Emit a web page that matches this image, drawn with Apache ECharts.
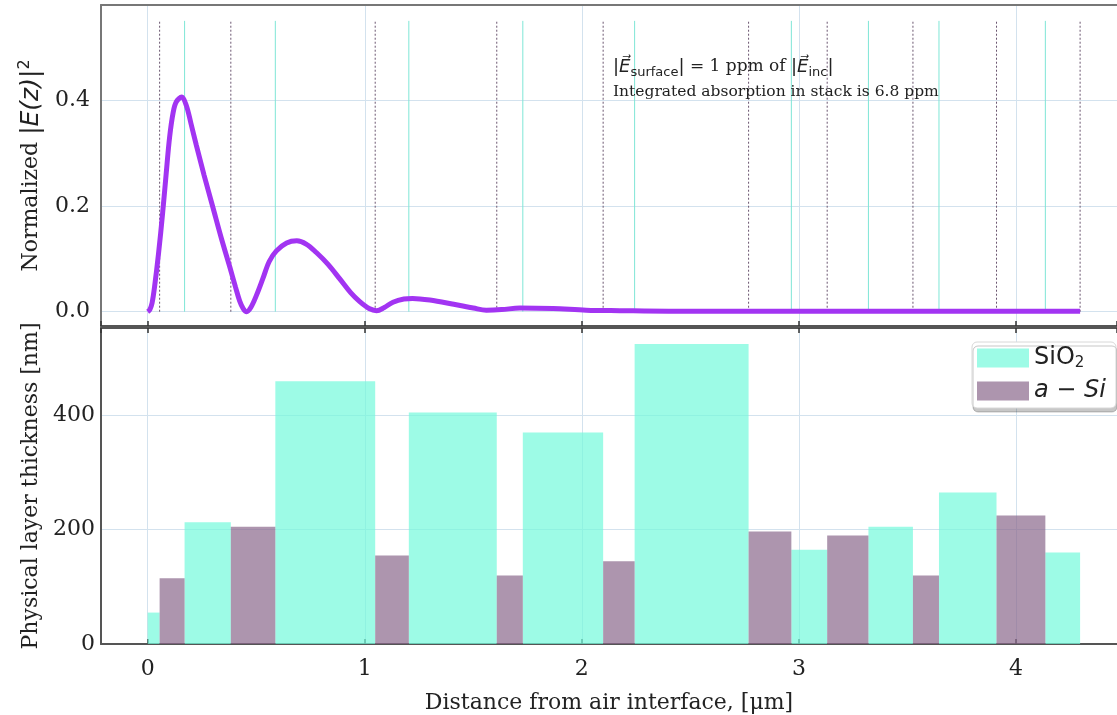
<!DOCTYPE html>
<html>
<head>
<meta charset="utf-8">
<script src="https://cdn.jsdelivr.net/npm/echarts@6/dist/echarts.min.js"></script>
<style>
  html, body { margin: 0; padding: 0; background: #fff; }
  #chart { width: 1117px; height: 715px; }
</style>
</head>
<body>
<div id="chart"></div>
<script>
  // layer thicknesses in nm (stack starts with SiO2, alternates)
  const sio2Thick = [55, 213, 460, 405, 370, 525, 165, 205, 265, 160];
  const asiThick = [115, 205, 155, 120, 145, 197, 190, 120, 225];

  // |E(z)|^2: [distance um, value]
  const fieldZ = [0, 0.01, 0.02, 0.032, 0.05, 0.069, 0.085, 0.101, 0.118, 0.132, 0.157, 0.178, 0.2, 0.224, 0.26,
    0.3, 0.34, 0.378, 0.405, 0.424, 0.44, 0.456, 0.475, 0.5, 0.53, 0.56, 0.593, 0.64, 0.687, 0.73, 0.777,
    0.83, 0.885, 0.935, 0.977, 1.02, 1.054, 1.09, 1.13, 1.18, 1.22, 1.3, 1.41, 1.5, 1.56, 1.63, 1.714,
    1.867, 2.02, 2.175, 2.4, 2.8, 3.2, 3.6, 4.0, 4.295];
  const fieldE = [0, 0.004, 0.016, 0.048, 0.11, 0.187, 0.26, 0.33, 0.378, 0.397, 0.406, 0.39, 0.355, 0.315, 0.258,
    0.198, 0.138, 0.085, 0.046, 0.02, 0.006, 0.0, 0.008, 0.03, 0.062, 0.095, 0.115, 0.13, 0.134, 0.128, 0.112,
    0.09, 0.062, 0.036, 0.019, 0.006, 0.002, 0.008, 0.018, 0.024, 0.025, 0.022, 0.014, 0.007, 0.003, 0.004, 0.007,
    0.006, 0.003, 0.002, 0.001, 0.001, 0.001, 0.001, 0.001, 0.001];

  const yTicksTop = [0, 0.2, 0.4];
  const yTicksBottom = [0, 200, 400];

  // build layer spans [start, end, thickness] in um from the thicknesses
  let sio2Bars = [], asiBars = [], sio2Ends = [], asiEnds = [];
  let pos = 0;
  for (let i = 0; i < sio2Thick.length; i++) {
    let t = sio2Thick[i] / 1000;
    sio2Bars.push([pos, pos + t, sio2Thick[i]]);
    pos += t;
    sio2Ends.push(pos);
    if (i < asiThick.length) {
      let a = asiThick[i] / 1000;
      asiBars.push([pos, pos + a, asiThick[i]]);
      pos += a;
      asiEnds.push(pos);
    }
  }
  const lineTop = 0.55;

  const serif = 'DejaVu Serif';
  const gridCol = '#d3e2ee';
  const frameCol = '#555';

  function barItem(params, api) {
    const p0 = api.coord([api.value(0), api.value(2)]);
    const p1 = api.coord([api.value(1), 0]);
    return {
      type: 'rect',
      shape: { x: p0[0], y: p0[1], width: p1[0] - p0[0], height: p1[1] - p0[1] },
      style: api.style()
    };
  }
  function vlineItem(color, dash) {
    return function (params, api) {
      const a = api.coord([api.value(0), 0]);
      const b = api.coord([api.value(0), lineTop]);
      return {
        type: 'line',
        shape: { x1: a[0], y1: a[1], x2: b[0], y2: b[1] },
        style: { stroke: color, lineWidth: 1, lineDash: dash }
      };
    };
  }

  const myChart = echarts.init(document.getElementById('chart'));

  // x range picked so that 0..4 sits where the reference has it; right edge runs off the page
  const xMin = -0.215, xMax = 4.465;
  function xAx(grid, where, extra) {
    return Object.assign({
      type: 'value', gridIndex: grid, position: where, min: xMin, max: xMax, splitNumber: 5,
      axisLine: { show: true, onZero: false, lineStyle: { color: frameCol, width: 2 } },
      axisTick: { show: true, inside: true, length: 5, lineStyle: { color: '#333', width: 1.5 } },
      axisLabel: { show: false },
      splitLine: { show: false }
    }, extra || {});
  }

  let option = {
    animation: false,
    backgroundColor: '#fff',
    grid: [
      { left: 101, right: 0, top: 5, height: 321 },
      { left: 101, right: 0, top: 328, height: 322 }
    ],
    xAxis: [
      xAx(0, 'bottom', { splitLine: { show: true, lineStyle: { color: gridCol, width: 1 } } }),
      xAx(1, 'bottom', {
        splitLine: { show: true, lineStyle: { color: gridCol, width: 1 } },
        axisLabel: {
          show: true, margin: 14, fontFamily: serif, fontSize: 22, color: '#222',
          showMinLabel: false, showMaxLabel: false
        },
        name: 'Distance from air interface, [μm]',
        nameLocation: 'middle', nameGap: 48,
        nameTextStyle: { fontFamily: serif, fontSize: 22, color: '#222' }
      }),
      xAx(0, 'top', { axisTick: { show: false }, axisLine: { show: true, onZero: false, lineStyle: { color: '#777', width: 2 } } }),
      xAx(1, 'top')
    ],
    yAxis: [
      {
        type: 'value', gridIndex: 0, min: -0.027, max: 0.58, splitNumber: 3,
        axisLine: { show: true, onZero: false, lineStyle: { color: '#777', width: 2 } },
        axisTick: { show: false },
        axisLabel: {
          fontFamily: serif, fontSize: 22, color: '#222', margin: 11,
          showMinLabel: false, showMaxLabel: false,
          formatter: function (v) { return yTicksTop.indexOf(Math.round(v * 10) / 10) >= 0 ? v.toFixed(1) : ''; }
        },
        splitLine: { lineStyle: { color: gridCol, width: 1 } },
        name: '{t|Normalized }{m||E(z)|}{s|2}', nameLocation: 'middle', nameGap: 50,
        nameTextStyle: {
          fontFamily: serif, fontSize: 22, color: '#222',
          rich: {
            t: { fontFamily: serif, fontSize: 22, color: '#222', lineHeight: 30 },
            m: { fontFamily: 'DejaVu Sans', fontStyle: 'italic', fontSize: 25, color: '#222', lineHeight: 30 },
            s: { fontFamily: 'DejaVu Sans', fontSize: 16, color: '#222', verticalAlign: 'top', lineHeight: 18 }
          }
        }
      },
      {
        type: 'value', gridIndex: 1, min: 0, max: 553, splitNumber: 3,
        axisLine: { show: true, onZero: false, lineStyle: { color: frameCol, width: 2 } },
        axisTick: { show: false },
        axisLabel: {
          fontFamily: serif, fontSize: 22, color: '#222', margin: 6,
          showMaxLabel: false,
          formatter: function (v) { return yTicksBottom.indexOf(v) >= 0 ? String(v) : ''; }
        },
        splitLine: { lineStyle: { color: gridCol, width: 1 } },
        name: 'Physical layer thickness [nm]', nameLocation: 'middle', nameGap: 52,
        nameTextStyle: { fontFamily: serif, fontSize: 22, color: '#222' }
      }
    ],
    legend: {
      data: ['SiO2', 'a-Si'],
      orient: 'vertical',
      left: 972, top: 342,
      itemWidth: 52, itemHeight: 19, itemGap: 7,
      icon: 'rect',
      padding: [3, 10, 4, 5],
      backgroundColor: '#fff',
      borderColor: '#d8d8d8', borderWidth: 1, borderRadius: 5,
      shadowColor: 'rgba(0,0,0,0.22)', shadowOffsetY: 4, shadowOffsetX: 1, shadowBlur: 0,
      textStyle: {
        fontFamily: 'DejaVu Sans', fontSize: 24, color: '#222', lineHeight: 26,
        rich: {
          n: { fontFamily: 'DejaVu Sans', fontSize: 24, color: '#222', lineHeight: 26 },
          s: { fontFamily: 'DejaVu Sans', fontSize: 15, color: '#222', verticalAlign: 'bottom', lineHeight: 22 },
          i: { fontFamily: 'DejaVu Sans', fontStyle: 'italic', fontSize: 24, color: '#222', lineHeight: 26 }
        }
      },
      formatter: function (name) {
        return name === 'SiO2' ? '{n|SiO}{s|2}' : '{i|a − Si}';
      }
    },
    graphic: [{
      type: 'text', left: 613, top: 58, z: 100,
      style: {
        text: '{m||E⃗}{sub|surface}{m||}{t1| = 1 ppm of }{m||E⃗}{sub|inc}{m||}\n{t|Integrated absorption in stack is 6.8 ppm}',
        fill: '#222',
        rich: {
          t: { fontFamily: serif, fontSize: 15.5, lineHeight: 25, fill: '#222' },
          t1: { fontFamily: serif, fontSize: 17, lineHeight: 25, fill: '#222' },
          m: { fontFamily: 'DejaVu Sans', fontStyle: 'italic', fontSize: 18, lineHeight: 25, fill: '#222' },
          sub: { fontFamily: 'DejaVu Sans', fontSize: 13, lineHeight: 17, verticalAlign: 'bottom', fill: '#222' }
        }
      }
    }],
    series: [
      {
        type: 'custom', name: 'vSiO2', xAxisIndex: 0, yAxisIndex: 0, silent: true,
        renderItem: vlineItem('#6b5670', [2, 2]),
        data: sio2Ends.map(function (x) { return [x]; }), z: 1
      },
      {
        type: 'custom', name: 'vaSi', xAxisIndex: 0, yAxisIndex: 0, silent: true,
        renderItem: vlineItem('#7fe6d6', null),
        data: asiEnds.map(function (x) { return [x]; }), z: 1
      },
      {
        type: 'line', xAxisIndex: 0, yAxisIndex: 0, name: 'field',
        data: fieldZ.map(function (z, i) { return [z, fieldE[i]]; }),
        smooth: 0.35, showSymbol: false,
        lineStyle: { color: '#a234f2', width: 5 },
        z: 5
      },
      {
        type: 'custom', name: 'SiO2', xAxisIndex: 1, yAxisIndex: 1,
        itemStyle: { color: 'rgba(116,249,219,0.7)' },
        renderItem: barItem,
        encode: { x: [0, 1], y: 2 },
        data: sio2Bars
      },
      {
        type: 'custom', name: 'a-Si', xAxisIndex: 1, yAxisIndex: 1,
        itemStyle: { color: 'rgba(138,104,139,0.7)' },
        renderItem: barItem,
        encode: { x: [0, 1], y: 2 },
        data: asiBars
      }
    ]
  };
  myChart.setOption(option);
</script>
</body>
</html>
